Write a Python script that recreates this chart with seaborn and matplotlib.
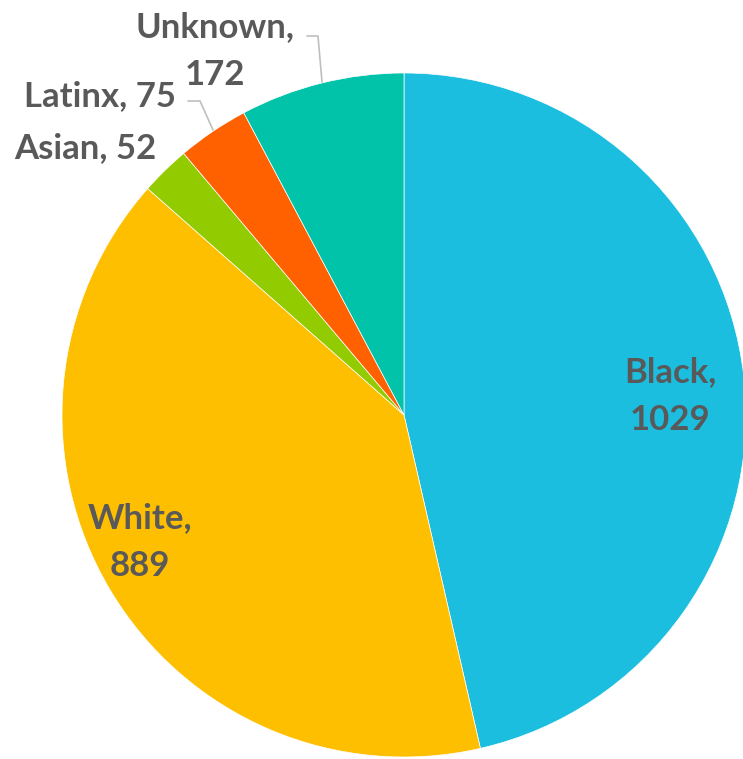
import matplotlib
matplotlib.use("Agg")
import matplotlib.pyplot as plt
import seaborn as sns

categories = ["Black", "White", "Asian", "Latinx", "Unknown"]
values = [1029, 889, 52, 75, 172]
colors = ["#1BBEDF", "#FDBF00", "#92CC00", "#FF6100", "#00C3A9"]

sns.set_theme(style="white")
plt.rcParams['font.family'] = ['Lato', 'DejaVu Sans']

W, H = 743, 759
fig = plt.figure(figsize=(W / 100, H / 100), dpi=100)
ax = fig.add_axes([0, 0, 1, 1])
cx, cy, r = 404, H - 415, 342
wedges, _ = ax.pie(values, colors=sns.color_palette(colors), startangle=90,
                   counterclock=False, center=(cx, cy), radius=r,
                   wedgeprops=dict(edgecolor="white", linewidth=0.5))
ax.set_xlim(0, W)
ax.set_ylim(0, H)
ax.set_aspect("equal")
ax.axis("off")

tc = "#595959"
fs = 25
def lab(i, x, y, two_lines=True, ha="center"):
    txt = f"{categories[i]},\n{values[i]}" if two_lines else f"{categories[i]}, {values[i]}"
    ax.text(x, H - y, txt, ha=ha, va="center", fontsize=fs, fontweight="bold",
            color=tc, linespacing=1.6)

lab(0, 670, 396)
lab(1, 140, 542)
lab(2, 14, 148, two_lines=False, ha="left")
lab(3, 24, 96, two_lines=False, ha="left")
lab(4, 215, 51)

lc = "#BFBFBF"
ax.plot([307, 318, 322], [H - 36, H - 36, H - 82], color=lc, lw=1.2)
ax.plot([188, 200, 213], [H - 101, H - 101, H - 130], color=lc, lw=1.2)

fig.savefig("out.png", dpi=100)
